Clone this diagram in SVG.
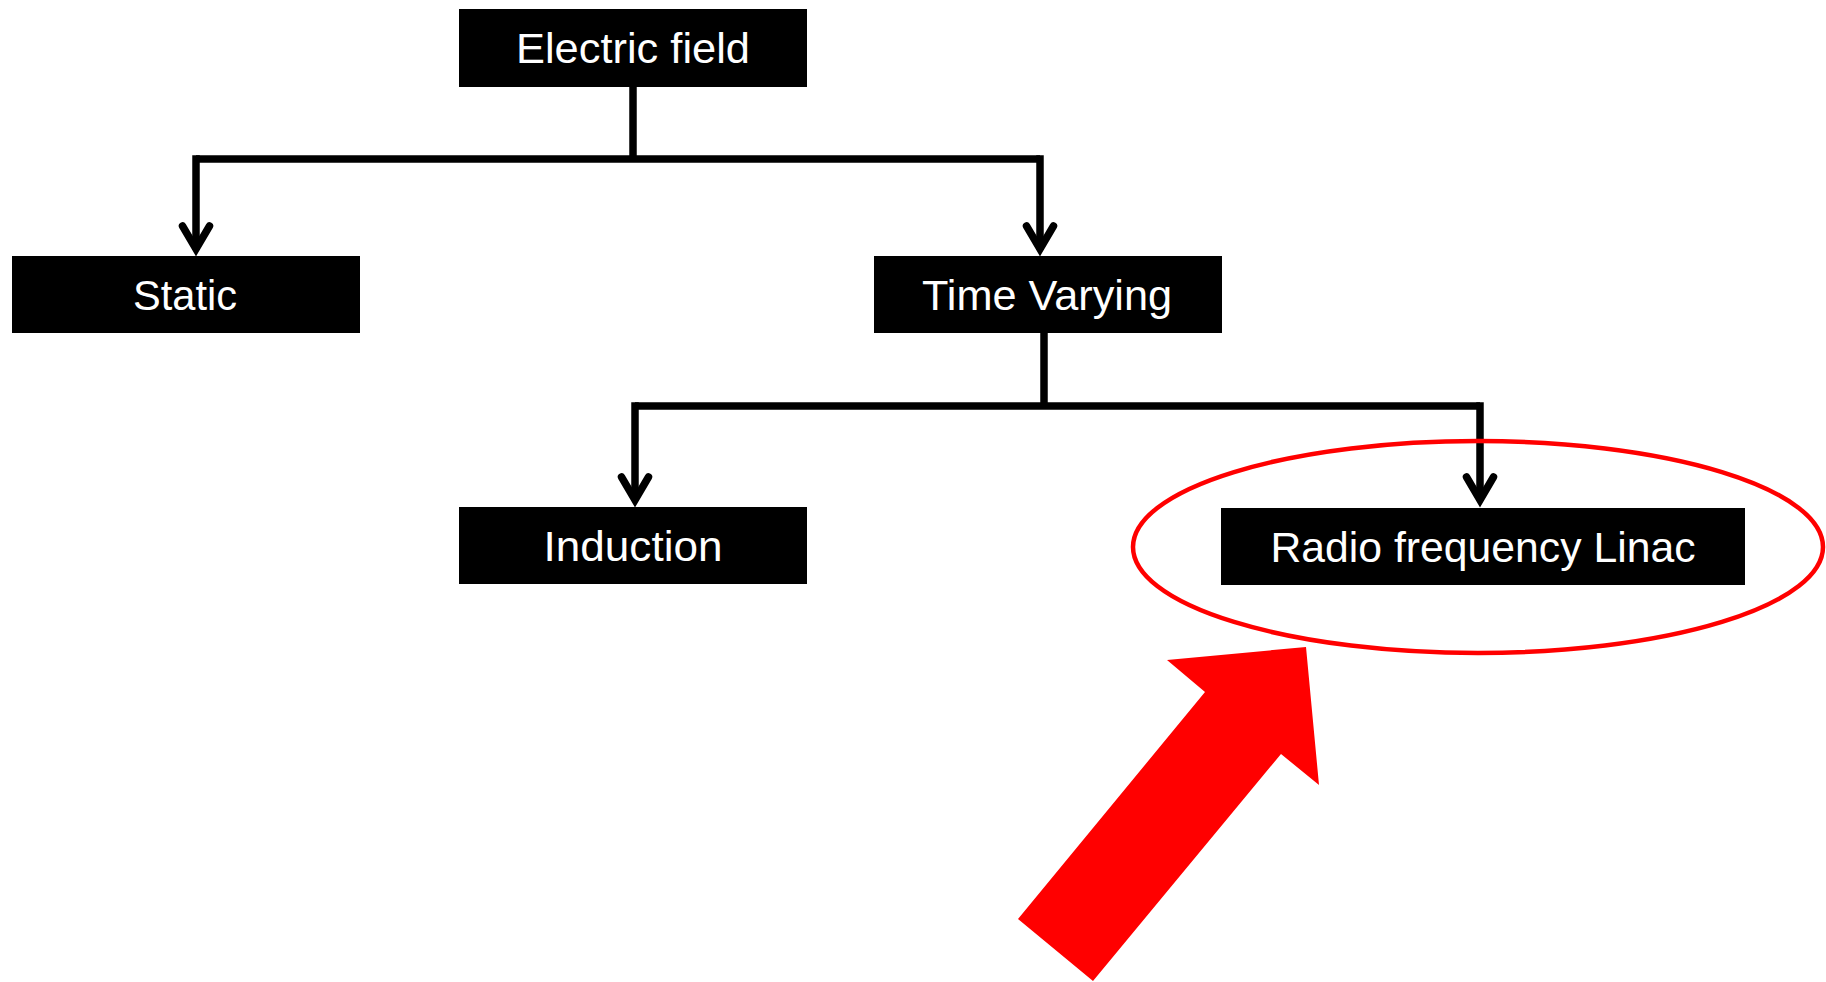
<svg xmlns="http://www.w3.org/2000/svg" width="1826" height="982" viewBox="0 0 1826 982">
  <style>
    .box { fill: #000000; }
    .lbl { fill: #ffffff; font-family: "Liberation Sans", Arial, sans-serif; font-size: 42px; text-anchor: middle; }
    .conn { fill: none; stroke: #000000; stroke-width: 7.5; stroke-linecap: butt; stroke-linejoin: miter; }
  </style>
  <defs>
    <marker id="arrow" markerUnits="userSpaceOnUse" markerWidth="40" markerHeight="40" refX="0" refY="0" orient="auto" overflow="visible">
      <path d="M-24,-13.5 L-1,0 L-24,13.5" fill="none" stroke="#000000" stroke-width="7.5" stroke-linecap="round" stroke-linejoin="miter"/>
    </marker>
  </defs>
  <rect width="1826" height="982" fill="#ffffff"/>

  <g id="connectors">
    <path class="conn" d="M633,87 V159"/>
    <path class="conn" d="M196,159 H1040"/>
    <path class="conn" d="M196,155.25 V250" marker-end="url(#arrow)"/>
    <path class="conn" d="M1040,155.25 V250" marker-end="url(#arrow)"/>
    <path class="conn" d="M1044,333 V406"/>
    <path class="conn" d="M635,406 H1480"/>
    <path class="conn" d="M635,402.25 V501" marker-end="url(#arrow)"/>
    <path class="conn" d="M1480,402.25 V501" marker-end="url(#arrow)"/>
  </g>

  <g id="node-electric-field">
    <rect class="box" x="459" y="9" width="348" height="78"/>
    <text class="lbl" x="633" y="63" textLength="234" lengthAdjust="spacingAndGlyphs">Electric field</text>
  </g>
  <g id="node-static">
    <rect class="box" x="12" y="256" width="348" height="77"/>
    <text class="lbl" x="185" y="310" textLength="104" lengthAdjust="spacingAndGlyphs">Static</text>
  </g>
  <g id="node-time-varying">
    <rect class="box" x="874" y="256" width="348" height="77"/>
    <text class="lbl" x="1047" y="310" textLength="250" lengthAdjust="spacingAndGlyphs">Time Varying</text>
  </g>
  <g id="node-induction">
    <rect class="box" x="459" y="507" width="348" height="77"/>
    <text class="lbl" x="633" y="561" textLength="179" lengthAdjust="spacingAndGlyphs">Induction</text>
  </g>
  <g id="node-rf-linac">
    <rect class="box" x="1221" y="508" width="524" height="77"/>
    <text class="lbl" x="1483" y="562" textLength="425" lengthAdjust="spacingAndGlyphs">Radio frequency Linac</text>
  </g>

  <g id="highlight">
    <ellipse cx="1478" cy="547" rx="345" ry="106" fill="none" stroke="#ff0000" stroke-width="4.5"/>
    <polygon points="1018,919 1093,981 1281,754 1319,785 1306,647 1167,660 1205,692" fill="#ff0000"/>
  </g>
</svg>
